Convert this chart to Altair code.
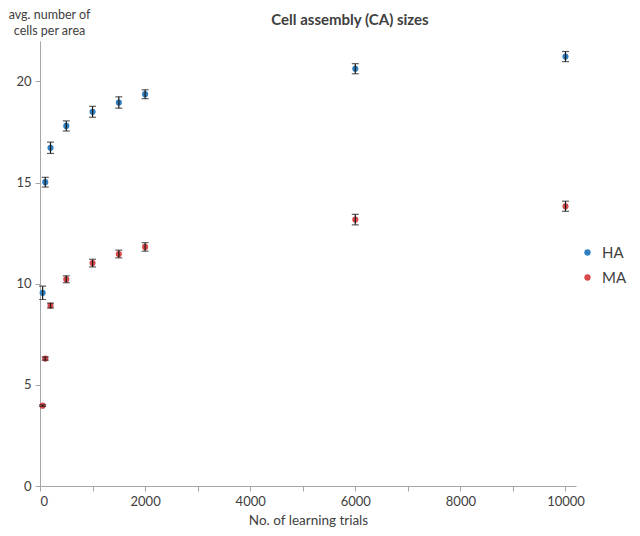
import altair as alt
import pandas as pd

trials = [50, 100, 200, 500, 1000, 1500, 2000, 6000, 10000]
ha_mean = [9.55, 15.02, 16.72, 17.80, 18.50, 18.96, 19.37, 20.63, 21.23]
ha_err = [0.33, 0.24, 0.28, 0.25, 0.27, 0.28, 0.22, 0.25, 0.25]
ma_mean = [3.97, 6.30, 8.92, 10.22, 11.02, 11.47, 11.82, 13.17, 13.83]
ma_err = [0.04, 0.08, 0.12, 0.17, 0.19, 0.19, 0.21, 0.26, 0.25]
series = ["HA", "MA"]
colors = ["#2f7fc1", "#d9494b"]

rows = []
for name, means, errs in [("HA", ha_mean, ha_err), ("MA", ma_mean, ma_err)]:
    for t, m, e in zip(trials, means, errs):
        rows.append({"trials": t, "mean": m, "lo": m - e, "hi": m + e, "series": name})
df = pd.DataFrame(rows)

FONT = "Lato"
xs = alt.Scale(domain=[0, 10200], nice=False, zero=True)
ys = alt.Scale(domain=[0, 22], nice=False)

x = alt.X("trials:Q", scale=xs,
          axis=alt.Axis(values=list(range(0, 10001, 1000)),
                        labelExpr="datum.value % 2000 === 0 ? format(datum.value, 'd') : ''",
                        title="No. of learning trials", grid=False, tickSize=5,
                        titlePadding=5))
y = alt.Y("mean:Q", scale=ys,
          axis=alt.Axis(values=[0, 5, 10, 15, 20], grid=False, tickSize=5,
                        title=["avg. number of", "cells per area"], titleAngle=0,
                        titleAlign="center", titleBaseline="top",
                        titleX=9, titleY=-33, titleFontWeight="normal",
                        titleFontSize=12.5, titleLineHeight=16))

base = alt.Chart(df)

rules = base.mark_rule(color="#1a1a1a", strokeWidth=1.2).encode(
    x=alt.X("trials:Q", scale=xs), y=alt.Y("lo:Q", scale=ys), y2="hi:Q")
cap_hi = base.mark_tick(color="#1a1a1a", thickness=1.2, size=7, orient="horizontal").encode(
    x=alt.X("trials:Q", scale=xs), y=alt.Y("hi:Q", scale=ys))
cap_lo = base.mark_tick(color="#1a1a1a", thickness=1.2, size=7, orient="horizontal").encode(
    x=alt.X("trials:Q", scale=xs), y=alt.Y("lo:Q", scale=ys))
points = base.mark_circle(size=38, opacity=1).encode(
    x=x, y=y,
    color=alt.Color("series:N", scale=alt.Scale(domain=series, range=colors),
                    legend=alt.Legend(title=None, orient="none", legendX=540, legendY=204,
                                      symbolType="circle", symbolSize=40,
                                      labelFontSize=15, labelColor="#404040",
                                      rowPadding=9, symbolOffset=0, labelOffset=7)))

chart = alt.layer(points, rules, cap_hi, cap_lo).properties(
    width=536, height=445,
    padding={"left": 32, "top": 33, "right": 56, "bottom": 42},
    autosize=alt.AutoSizeParams(type="none"),
    title=alt.TitleParams("Cell assembly (CA) sizes", fontSize=15, fontWeight="bold",
                          font=FONT, color="#404040", anchor="middle", dx=42, dy=20,
                          offset=0),
).configure_view(stroke=None).configure_axis(
    labelFont=FONT, titleFont=FONT, labelFontSize=13, titleFontSize=13.5,
    labelColor="#404040", titleColor="#404040", domainColor="#a6a6a6",
    tickColor="#a6a6a6", labelPadding=4, titleFontWeight="normal"
).configure_legend(labelFont=FONT)

chart.save("out.html", embed_options={"renderer": "svg", "actions": False})
